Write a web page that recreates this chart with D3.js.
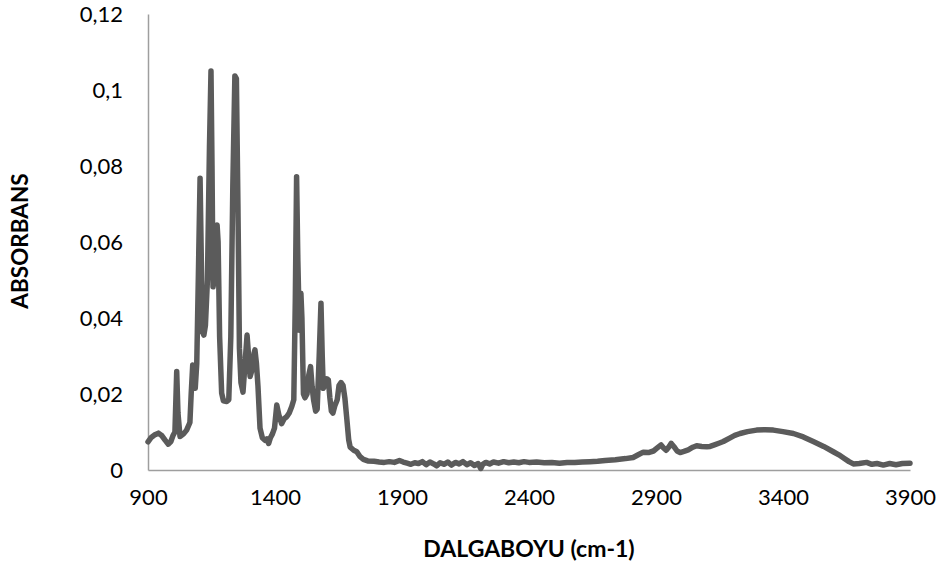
<!DOCTYPE html>
<html>
<head>
<meta charset="utf-8">
<script src="https://cdn.jsdelivr.net/npm/d3@7/dist/d3.min.js"></script>
<style>
  html, body { margin: 0; padding: 0; background: #fff; }
  svg { display: block; }
  .tick text { font-family: Lato, "Open Sans", sans-serif; fill: #000; }
</style>
</head>
<body>
<svg id="chart" width="939" height="568"></svg>
<script>
// FTIR spectrum: wavenumber (cm-1) and absorbance
const wavenumber = [
  900, 912, 925, 941, 955, 968, 980, 990, 998, 1006,
  1013, 1018, 1026, 1040, 1052, 1065, 1070, 1076, 1082, 1086,
  1092, 1098, 1105, 1110, 1114, 1120, 1126, 1134, 1142, 1148,
  1152, 1156, 1161, 1166, 1172, 1176, 1182, 1190, 1197, 1210,
  1218, 1226, 1234, 1242, 1248, 1254, 1260, 1266, 1274, 1282,
  1290, 1296, 1302, 1308, 1315, 1321, 1327, 1333, 1341, 1350,
  1361, 1368, 1375, 1382, 1390, 1398, 1407, 1415, 1426, 1436,
  1446, 1456, 1466, 1474, 1480, 1485, 1490, 1496, 1502, 1506,
  1512, 1518, 1526, 1533, 1540, 1546, 1552, 1560, 1566, 1574,
  1581, 1586, 1590, 1597, 1604, 1610, 1616, 1622, 1628, 1636,
  1645, 1652, 1660, 1668, 1675, 1682, 1690, 1696, 1710, 1722,
  1735, 1748, 1765, 1790, 1810, 1830, 1850, 1870, 1890, 1905,
  1920, 1935, 1950, 1965, 1980, 1995, 2010, 2025, 2037, 2050,
  2065, 2080, 2095, 2110, 2125, 2140, 2155, 2170, 2185, 2200,
  2210, 2218, 2230, 2245, 2260, 2280, 2300, 2320, 2340, 2360,
  2380, 2400, 2430, 2460, 2490, 2520, 2550, 2580, 2610, 2640,
  2670, 2700, 2740, 2780, 2810, 2830, 2850, 2870, 2890, 2905,
  2920, 2930, 2940, 2952, 2960, 2970, 2983, 2995, 3010, 3027,
  3045, 3060, 3080, 3100, 3113, 3130, 3150, 3165, 3190, 3210,
  3231, 3260, 3296, 3330, 3362, 3400, 3441, 3480, 3519, 3560,
  3598, 3620, 3640, 3660, 3677, 3700, 3729, 3750, 3770, 3795,
  3820, 3845, 3870, 3900
];
const absorbance = [
  0.0074, 0.0085, 0.0092, 0.0097, 0.0090, 0.0078, 0.0068, 0.0075, 0.0090, 0.0100,
  0.0259, 0.0150, 0.0088, 0.0095, 0.0105, 0.0125, 0.0200, 0.0276, 0.0240, 0.0215,
  0.0281, 0.0500, 0.0768, 0.0550, 0.0364, 0.0355, 0.0380, 0.0500, 0.0850, 0.1050,
  0.0800, 0.0482, 0.0560, 0.0490, 0.0645, 0.0600, 0.0350, 0.0202, 0.0182, 0.0180,
  0.0185, 0.0350, 0.0750, 0.1037, 0.1030, 0.0700, 0.0320, 0.0230, 0.0205, 0.0280,
  0.0355, 0.0300, 0.0246, 0.0260, 0.0300, 0.0316, 0.0280, 0.0220, 0.0110, 0.0085,
  0.0078, 0.0082, 0.0070, 0.0085, 0.0095, 0.0110, 0.0171, 0.0145, 0.0122, 0.0135,
  0.0140, 0.0150, 0.0167, 0.0185, 0.0450, 0.0772, 0.0550, 0.0368, 0.0465, 0.0400,
  0.0200, 0.0190, 0.0200, 0.0250, 0.0272, 0.0220, 0.0184, 0.0155, 0.0160, 0.0300,
  0.0439, 0.0300, 0.0215, 0.0225, 0.0240, 0.0237, 0.0190, 0.0155, 0.0150, 0.0170,
  0.0185, 0.0222, 0.0230, 0.0222, 0.0190, 0.0140, 0.0080, 0.0060, 0.0052, 0.0048,
  0.0035, 0.0028, 0.0024, 0.0023, 0.0021, 0.0020, 0.0022, 0.0020, 0.0025, 0.0021,
  0.0018, 0.0015, 0.0019, 0.0017, 0.0022, 0.0014, 0.0021, 0.0016, 0.0011, 0.0019,
  0.0015, 0.0021, 0.0013, 0.0020, 0.0016, 0.0022, 0.0014, 0.0019, 0.0012, 0.0017,
  0.0004, 0.0015, 0.0020, 0.0016, 0.0021, 0.0018, 0.0022, 0.0019, 0.0021, 0.0019,
  0.0022, 0.0020, 0.0021, 0.0019, 0.0020, 0.0018, 0.0020, 0.0020, 0.0021, 0.0022,
  0.0023, 0.0025, 0.0027, 0.0030, 0.0033, 0.0040, 0.0047, 0.0046, 0.0050, 0.0058,
  0.0066, 0.0058, 0.0052, 0.0062, 0.0070, 0.0062, 0.0050, 0.0046, 0.0049, 0.0053,
  0.0060, 0.0064, 0.0062, 0.0061, 0.0062, 0.0066, 0.0071, 0.0075, 0.0084, 0.0091,
  0.0096, 0.0101, 0.0105, 0.0106, 0.0105, 0.0101, 0.0096, 0.0087, 0.0075, 0.0062,
  0.0048, 0.0040, 0.0031, 0.0022, 0.0016, 0.0017, 0.0020, 0.0015, 0.0017, 0.0013,
  0.0017, 0.0014, 0.0017, 0.0018
];
const xTicks = [900, 1400, 1900, 2400, 2900, 3400, 3900];
const yTicks = [0, 0.02, 0.04, 0.06, 0.08, 0.1, 0.12];
const xTitle = "DALGABOYU (cm-1)";
const yTitle = "ABSORBANS";

const svg = d3.select("#chart");
const margin = { left: 148, right: 29, top: 14, bottom: 98 };
const W = 939, H = 568;

const x = d3.scaleLinear().domain([900, 3900]).range([margin.left, W - margin.right]);
const y = d3.scaleLinear().domain([0, 0.12]).range([H - margin.bottom, margin.top]);

const fmt = d => String(d).replace(".", ",");

// Y axis
const yAxis = svg.append("g")
  .attr("transform", `translate(${margin.left},0)`)
  .call(d3.axisLeft(y).tickValues(yTicks).tickSize(0).tickPadding(25).tickFormat(fmt));
yAxis.select(".domain").attr("stroke", "#9e9e9e").attr("stroke-width", 1.5);
yAxis.selectAll(".tick text").attr("font-size", 22);

// X axis
const xAxis = svg.append("g")
  .attr("transform", `translate(0,${H - margin.bottom})`)
  .call(d3.axisBottom(x).tickValues(xTicks).tickSize(0).tickPadding(19).tickFormat(d3.format("d")));
xAxis.select(".domain").attr("stroke", "#9e9e9e").attr("stroke-width", 1.5);
xAxis.selectAll(".tick text").attr("font-size", 22);

// Spectrum line
const pts = wavenumber.map((w, i) => [w, absorbance[i]]);
svg.append("path")
  .datum(pts)
  .attr("fill", "none")
  .attr("stroke", "#5b5b5b")
  .attr("stroke-width", 5.5)
  .attr("stroke-linejoin", "round")
  .attr("stroke-linecap", "round")
  .attr("d", d3.line().x(d => x(d[0])).y(d => y(d[1])));

// Axis titles
svg.append("text")
  .attr("x", 529).attr("y", 557)
  .attr("text-anchor", "middle")
  .attr("font-family", "Lato, 'Open Sans', sans-serif")
  .attr("font-weight", "bold")
  .attr("font-size", 23)
  .text(xTitle);

svg.append("text")
  .attr("transform", "translate(28,241) rotate(-90)")
  .attr("text-anchor", "middle")
  .attr("font-family", "Lato, 'Open Sans', sans-serif")
  .attr("font-weight", "bold")
  .attr("font-size", 22.5)
  .text(yTitle);
</script>
</body>
</html>
